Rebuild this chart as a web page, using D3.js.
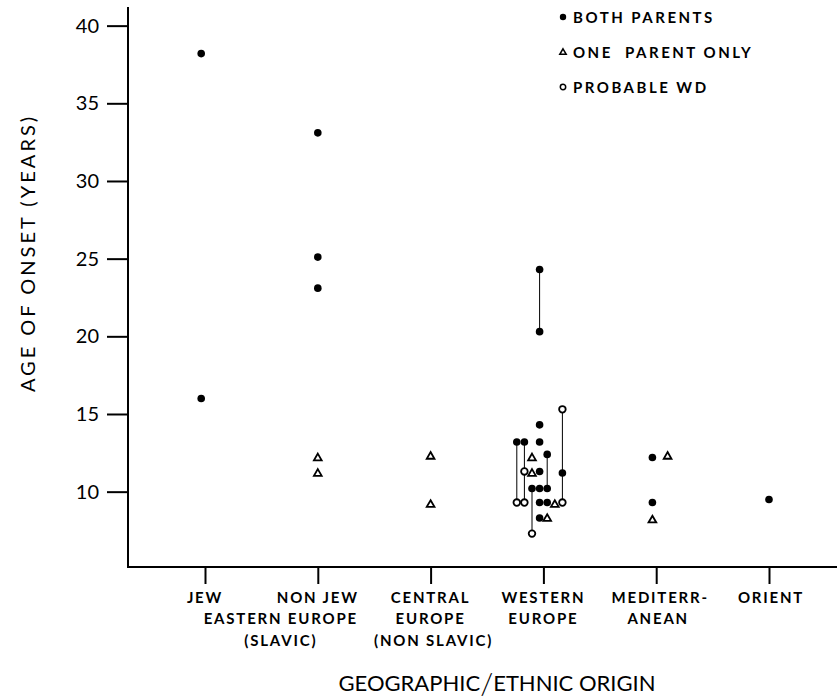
<!DOCTYPE html>
<html>
<head>
<meta charset="utf-8">
<script src="https://cdn.jsdelivr.net/npm/d3@7"></script>
<style>
  body { margin: 0; background: #fff; }
  svg { display: block; font-family: Lato, "DejaVu Sans", sans-serif; }
</style>
</head>
<body>
<svg id="chart" width="837" height="700"></svg>
<script>
// categories along the bottom
const categories = ['jew', 'nonjew', 'central', 'western', 'mediterr', 'orient']
const categoryLabels = [
    ['JEW'],
    ['NON JEW', 'EASTERN EUROPE', '(SLAVIC)'],
    ['CENTRAL', 'EUROPE', '(NON SLAVIC)'],
    ['WESTERN', 'EUROPE'],
    ['MEDITERR-', 'ANEAN'],
    ['ORIENT']
]
const yTicks = [10, 15, 20, 25, 30, 35, 40]

// each point: category, lane (side-by-side slot in a column), age of onset
const bothParents = [
    ['jew', -0.5, 38.2], ['jew', -0.5, 16.0],
    ['nonjew', 0, 33.1], ['nonjew', 0, 25.1], ['nonjew', 0, 23.1],
    ['western', -0.5, 24.3], ['western', -0.5, 20.3], ['western', -0.5, 14.3],
    ['western', -0.5, 13.2], ['western', -0.5, 11.3], ['western', -0.5, 10.2],
    ['western', -0.5, 9.3], ['western', -0.5, 8.3],
    ['western', -3.5, 13.2], ['western', -2.5, 13.2], ['western', -1.5, 10.2],
    ['western', 0.5, 12.4], ['western', 0.5, 10.2], ['western', 0.5, 9.3],
    ['western', 2.5, 11.2],
    ['mediterr', -0.5, 12.2], ['mediterr', -0.5, 9.3],
    ['orient', 0, 9.5]
]
const oneParent = [
    ['nonjew', 0, 12.2], ['nonjew', 0, 11.2],
    ['central', 0, 12.3], ['central', 0, 9.2],
    ['western', -1.5, 12.2], ['western', -1.5, 11.2], ['western', 0.5, 8.3],
    ['western', 1.5, 9.2],
    ['mediterr', 1.5, 12.3], ['mediterr', -0.5, 8.2]
]
const probableWD = [
    ['western', -3.5, 9.3], ['western', -2.5, 11.3], ['western', -2.5, 9.3],
    ['western', -1.5, 7.3], ['western', 2.5, 15.3], ['western', 2.5, 9.3]
]
// vertical lines joining sibs: category, lane, from, to
const sibLinks = [
    ['western', -0.5, 24.3, 20.3],
    ['western', -3.5, 13.2, 9.3],
    ['western', -2.5, 13.2, 9.3],
    ['western', -1.5, 10.2, 7.3],
    ['western', 0.5, 12.4, 10.2],
    ['western', 2.5, 15.3, 9.3]
]
const legendItems = ['BOTH PARENTS', 'ONE  PARENT ONLY', 'PROBABLE WD']

const svg = d3.select('#chart')

// scales
const x = d3.scalePoint()
    .domain(categories)
    .range([205, 769])
const lane = d3.scaleLinear()
    .domain([0, 1])
    .range([0, 7.6])
const y = d3.scaleLinear()
    .domain([5.15, 41.2])
    .range([567, 7])

const px = d => x(d[0]) + lane(d[1])

// y axis
const yaxis = svg.append('g')
    .attr('transform', 'translate(128, 0)')
    .call(d3.axisLeft(y).tickValues(yTicks).tickSize(21).tickPadding(8))
yaxis.select('.domain').remove()
yaxis.selectAll('line').attr('stroke', '#000').attr('stroke-width', 2)
yaxis.selectAll('text')
    .attr('font-size', 20)
    .attr('font-family', 'Lato, sans-serif')
    .attr('fill', '#000')
svg.append('line')
    .attr('x1', 128).attr('x2', 128)
    .attr('y1', y(41.2)).attr('y2', y(5.15) + 1)
    .attr('stroke', '#000').attr('stroke-width', 2)

// x axis
const xaxis = svg.append('g')
    .attr('transform', 'translate(0, ' + y(5.15) + ')')
    .call(d3.axisBottom(x).tickSize(17).tickFormat(''))
xaxis.select('.domain').remove()
xaxis.selectAll('line').attr('stroke', '#000').attr('stroke-width', 2)
svg.append('line')
    .attr('x1', 127).attr('x2', 837)
    .attr('y1', y(5.15)).attr('y2', y(5.15))
    .attr('stroke', '#000').attr('stroke-width', 2)

// category labels (eastern europe line is shared between the two jew columns)
const labelShift = [[0], [0, -37, -37], [0, 0, 3], [0, 0], [4, 2], [2]]
const labelRows = [603, 624, 646]
categoryLabels.forEach((lines, i) => {
    lines.forEach((txt, j) => {
        svg.append('text')
            .attr('x', x(categories[i]) + labelShift[i][j])
            .attr('y', labelRows[j])
            .attr('text-anchor', 'middle')
            .attr('font-size', 15)
            .attr('font-weight', 'bold')
            .attr('letter-spacing', 1.8)
            .text(txt)
    })
})

// axis titles
svg.append('text')
    .attr('transform', 'translate(35, 253) rotate(-90)')
    .attr('text-anchor', 'middle')
    .attr('font-size', 20)
    .attr('letter-spacing', 3)
    .text('AGE OF ONSET (YEARS)')

const title = svg.append('text')
    .attr('x', 497)
    .attr('y', 691)
    .attr('text-anchor', 'middle')
    .attr('font-size', 22)
title.append('tspan').text('GEOGRAPHIC')
title.append('tspan').attr('font-size', 30).attr('dy', 3).attr('font-weight', 300).text('/')
title.append('tspan').attr('dy', -3).text('ETHNIC ORIGIN')

// sib links
svg.append('g')
    .selectAll('line')
    .data(sibLinks)
    .enter()
    .append('line')
        .attr('x1', px).attr('x2', px)
        .attr('y1', d => y(d[2]))
        .attr('y2', d => y(d[3]))
        .attr('stroke', '#000')
        .attr('stroke-width', 1)

// triangle shape
const tri = d3.symbol().type(d3.symbolTriangle).size(26)

// points
svg.append('g')
    .selectAll('path')
    .data(oneParent)
    .enter()
    .append('path')
        .attr('d', tri)
        .attr('transform', d => 'translate(' + px(d) + ',' + (y(d[2]) + 0.6) + ')')
        .attr('fill', '#fff')
        .attr('stroke', '#000')
        .attr('stroke-width', 1.8)

svg.append('g')
    .selectAll('circle')
    .data(bothParents)
    .enter()
    .append('circle')
        .attr('cx', px)
        .attr('cy', d => y(d[2]))
        .attr('r', 3.8)
        .style('fill', '#000')

svg.append('g')
    .selectAll('circle')
    .data(probableWD)
    .enter()
    .append('circle')
        .attr('cx', px)
        .attr('cy', d => y(d[2]))
        .attr('r', 3.3)
        .attr('fill', '#fff')
        .attr('stroke', '#000')
        .attr('stroke-width', 1.8)

// legend
const legend = svg.append('g').attr('transform', 'translate(563, 0)')
const legendY = [17, 52, 87]
legend.append('circle').attr('cx', 0).attr('cy', legendY[0]).attr('r', 3.2).attr('fill', '#000')
legend.append('path').attr('d', d3.symbol().type(d3.symbolTriangle).size(18))
    .attr('transform', 'translate(0,' + (legendY[1] + 0.5) + ')')
    .attr('fill', '#fff').attr('stroke', '#000').attr('stroke-width', 1.5)
legend.append('circle').attr('cx', 0).attr('cy', legendY[2]).attr('r', 2.7)
    .attr('fill', '#fff').attr('stroke', '#000').attr('stroke-width', 1.5)
legend.selectAll('text.lg')
    .data(legendItems)
    .enter()
    .append('text')
        .attr('class', 'lg')
        .attr('x', 10)
        .attr('y', (d, i) => legendY[i] + 5.5)
        .attr('font-size', 15)
        .attr('font-weight', 'bold')
        .attr('letter-spacing', 2.5)
        .style('white-space', 'pre')
        .text(d => d)
</script>
</body>
</html>
